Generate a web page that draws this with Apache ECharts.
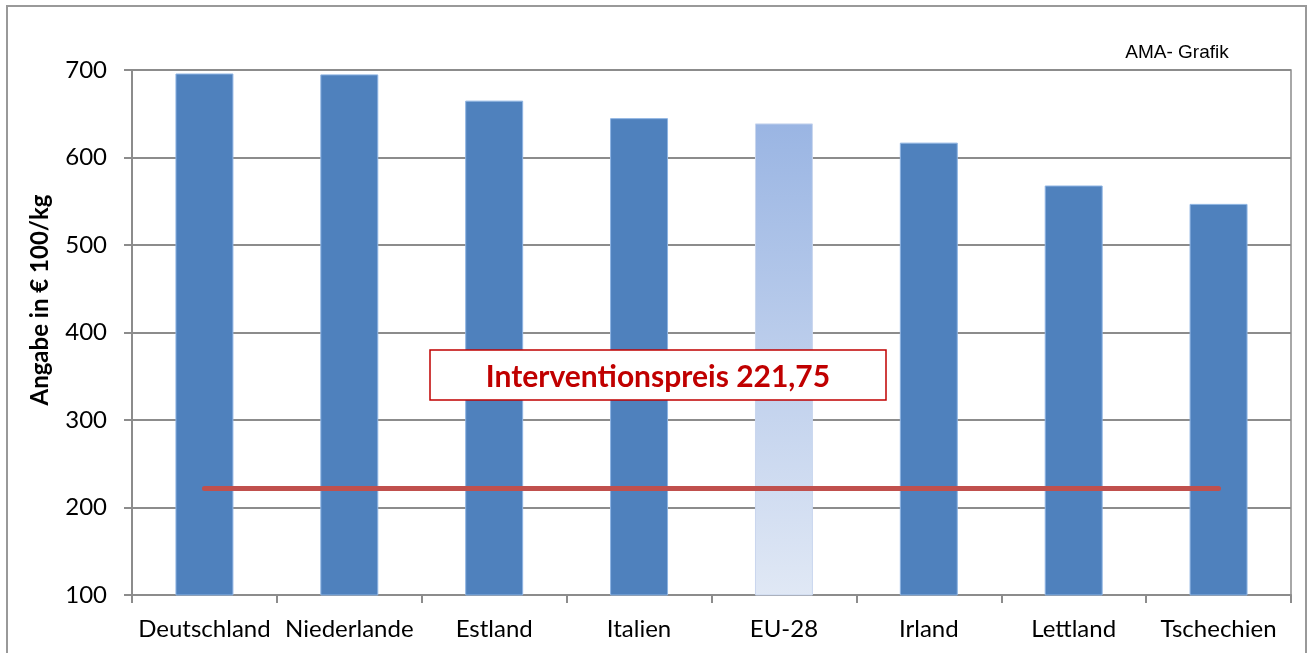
<!DOCTYPE html>
<html>
<head>
<meta charset="utf-8">
<script src="https://cdn.jsdelivr.net/npm/echarts@6/dist/echarts.min.js"></script>
<style>
  html, body { margin: 0; padding: 0; background: #fff; }
  #grafico { width: 1314px; height: 653px; }
</style>
</head>
<body>
<div id="grafico"></div>
<script>
const laender = ["Deutschland", "Niederlande", "Estland", "Italien", "EU-28", "Irland", "Lettland", "Tschechien"]
const preise = [696, 695, 665, 645, 639, 617, 568, 547]
const interventionspreis = 221.75
const yTicks = [100, 200, 300, 400, 500, 600, 700]

const schrift = "Lato, 'Noto Sans', sans-serif"

let myChart = echarts.init(document.getElementById("grafico"))

let balken = preise.map((v, i) => {
  if (laender[i] === "EU-28") {
    return {
      value: v,
      itemStyle: {
        color: new echarts.graphic.LinearGradient(0, 0, 0, 1, [
          { offset: 0, color: "#9AB5E3" },
          { offset: 1, color: "#E0E8F5" },
        ]),
        borderColor: "#C9D6EE",
      },
    }
  }
  return v
})

let option = {
  animation: false,
  grid: {
    left: 132,
    right: 23,
    top: 70,
    bottom: 58,
    show: true,
    borderColor: "#8c8c8c",
    borderWidth: 1.5,
  },
  xAxis: {
    type: "category",
    data: laender,
    axisLine: { lineStyle: { color: "#8c8c8c", width: 2 } },
    axisTick: { show: true, length: 8, lineStyle: { color: "#8c8c8c", width: 2 } },
    axisLabel: { interval: 0, color: "#000", fontFamily: schrift, fontSize: 24, margin: 22 },
  },
  yAxis: {
    type: "value",
    min: yTicks[0],
    max: yTicks[yTicks.length - 1],
    interval: 100,
    axisLine: { show: true, lineStyle: { color: "#8c8c8c", width: 2 } },
    axisTick: { show: true, length: 8, lineStyle: { color: "#8c8c8c", width: 2 } },
    axisLabel: { color: "#000", fontFamily: schrift, fontSize: 24, margin: 25 },
    splitLine: { lineStyle: { color: "#8c8c8c", width: 2 } },
  },
  series: [
    {
      type: "bar",
      data: balken,
      barWidth: "40%",
      itemStyle: { color: "#4F81BD", borderColor: "#8EB4E3", borderWidth: 1 },
    },
    {
      type: "line",
      data: laender.map(() => interventionspreis),
      symbol: "none",
      lineStyle: { color: "#C0504D", width: 5, cap: "round" },
      z: 5,
    },
  ],
  graphic: [
    {
      type: "rect",
      shape: { x: 430, y: 350, width: 456, height: 50 },
      style: { fill: "#fff", stroke: "#C00000", lineWidth: 1.5 },
      z: 10,
    },
    {
      type: "text",
      x: 658,
      y: 377,
      style: {
        text: "Interventionspreis 221,75",
        fill: "#C00000",
        font: "bold 30px " + schrift,
        align: "center",
        verticalAlign: "middle",
      },
      z: 11,
    },
    {
      type: "text",
      x: 1177,
      y: 53,
      style: {
        text: "AMA- Grafik",
        fill: "#000",
        font: "19px 'Liberation Sans', Arial, sans-serif",
        align: "center",
        verticalAlign: "middle",
      },
    },
    {
      type: "text",
      x: 40,
      y: 300,
      rotation: Math.PI / 2,
      style: {
        text: "Angabe in € 100/kg",
        fill: "#000",
        font: "bold 24px " + schrift,
        align: "center",
        verticalAlign: "middle",
      },
    },
    {
      type: "rect",
      shape: { x: 7, y: 6, width: 1299, height: 660 },
      style: { fill: "none", stroke: "#999", lineWidth: 2 },
      silent: true,
    },
  ],
}

myChart.setOption(option)
</script>
</body>
</html>
